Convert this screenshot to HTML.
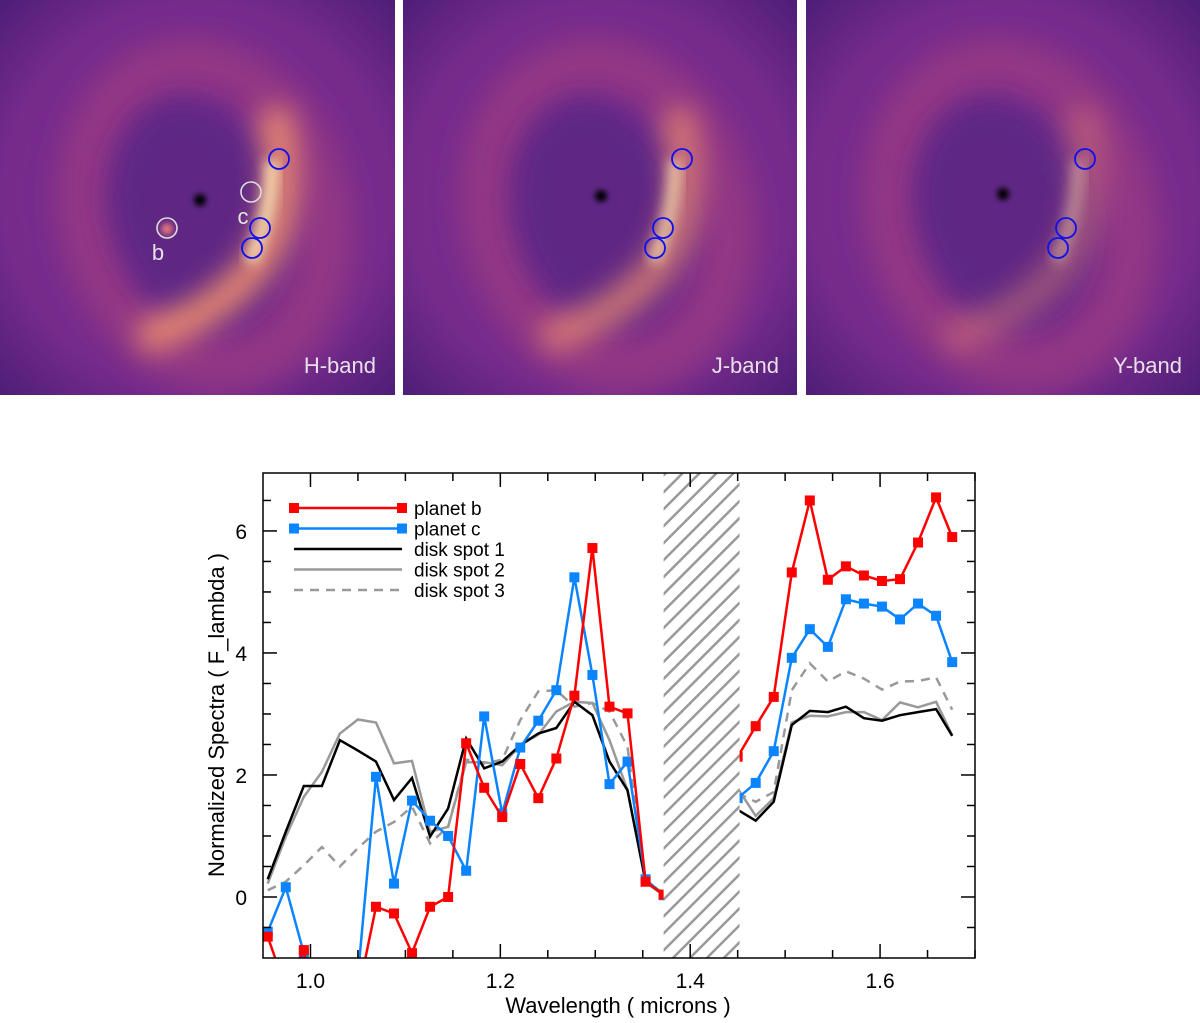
<!DOCTYPE html>
<html><head><meta charset="utf-8"><style>
html,body{margin:0;padding:0;background:#fff;width:1200px;height:1023px;overflow:hidden;font-family:"Liberation Sans",sans-serif}
svg{display:block}
svg text{font-family:"Liberation Sans",sans-serif}
</style></head><body>
<svg width="1200" height="1023" viewBox="0 0 1200 1023">
<defs>
<filter id="blur8" x="-50%" y="-50%" width="200%" height="200%"><feGaussianBlur stdDeviation="14"/></filter>
<filter id="blur4" x="-50%" y="-50%" width="200%" height="200%"><feGaussianBlur stdDeviation="6"/></filter>
<filter id="blur2" x="-50%" y="-50%" width="200%" height="200%"><feGaussianBlur stdDeviation="3"/></filter>
<radialGradient id="bgG" cx="50%" cy="50%" r="70%"><stop offset="0" stop-color="#7e2f8f"/><stop offset="0.7" stop-color="#762b8b"/><stop offset="1" stop-color="#4e1e78"/></radialGradient>
<clipPath id="c1"><rect x="0" y="0" width="395" height="395"/></clipPath>
<clipPath id="c2"><rect x="403" y="0" width="394" height="395"/></clipPath>
<clipPath id="c3"><rect x="806" y="0" width="394" height="395"/></clipPath>
<pattern id="hatch" patternUnits="userSpaceOnUse" width="12" height="12" patternTransform="rotate(45)">
<rect width="12" height="12" fill="#fff"/><rect x="0" y="0" width="2.5" height="12" fill="#999"/></pattern>
</defs>
<g id="panels"></g>
<g id="chart"></g>
</svg>
<script>
// ---- image panels ----
const panelDefs=[
 {x:0,clip:'c1',label:'H-band',star:[200,200],bright:1.0},
 {x:403,clip:'c2',label:'J-band',star:[601,196],bright:0.8},
 {x:806,clip:'c3',label:'Y-band',star:[1003,194],bright:0.45}];
const NS='http://www.w3.org/2000/svg';
function mk(tag,attrs,parent){const e=document.createElementNS(NS,tag);for(const k in attrs)e.setAttribute(k,attrs[k]);parent.appendChild(e);return e;}
const pg=document.getElementById('panels');
panelDefs.forEach((p,i)=>{
 const g=mk('g',{'clip-path':'url(#'+p.clip+')'},pg);
 
 
 const w=i===0?395:394;
 mk('rect',{x:p.x,y:0,width:w,height:395,fill:'url(#bgG)'},g);
 const cx=p.x+205, cy=215;
 mk('ellipse',{cx:cx,cy:cy,rx:118,ry:152,transform:`rotate(-15 ${cx} ${cy})`,fill:'none',stroke:'#a8407f','stroke-width':55,opacity:0.55,filter:'url(#blur8)'},g);
 mk('ellipse',{cx:cx-8,cy:cy-5,rx:85,ry:115,transform:`rotate(-15 ${cx} ${cy})`,fill:'#5c2784',opacity:0.9,filter:'url(#blur8)'},g);
 mk('path',{d:`M ${p.x+272} ${110} Q ${p.x+300} ${210} ${p.x+255} ${268} Q ${p.x+210} ${320} ${p.x+140} ${338}`,fill:'none',stroke:'#e98a6e','stroke-width':32,opacity:p.bright,filter:'url(#blur8)'},g);
 mk('path',{d:`M ${p.x+272} ${160} Q ${p.x+272} ${215} ${p.x+250} ${262}`,fill:'none',stroke:'#ffe6b0','stroke-width':14,opacity:p.bright*0.9,filter:'url(#blur4)'},g);
 mk('circle',{cx:p.star[0],cy:p.star[1],r:6,fill:'#000',filter:'url(#blur2)'},g);
 const t=mk('text',{x:p.x+376,y:373,'text-anchor':'end','font-size':22,fill:'#e8e0e8'},g);t.textContent=p.label;
 
 
 const bc=[[p.x+279,159],[p.x+260,228],[p.x+252,248]];
 bc.forEach(c=>{const e=mk('circle',{cx:c[0],cy:c[1],r:10,fill:'none',stroke:'#1010ee','stroke-width':1.8},g);
  
  });
 if(i===0){
  mk('circle',{cx:167,cy:229,r:6,fill:'#e0787a',filter:'url(#blur2)'},g);
  [[251,192],[167,228]].forEach(c=>{const e=mk('circle',{cx:c[0],cy:c[1],r:10,fill:'none',stroke:'#ddd','stroke-width':1.6},g);
   
   });
  let tb=mk('text',{x:158,y:260,'text-anchor':'middle','font-size':22,fill:'#e8e0e8'},g);tb.textContent='b';
  let tc=mk('text',{x:243,y:224,'text-anchor':'middle','font-size':22,fill:'#e8e0e8'},g);tc.textContent='c';
 }
});

// ---- chart data ----
const wlLeft=[0.955,0.974,0.993,1.012,1.031,1.050,1.069,1.088,1.107,1.126,1.145,1.164,1.183,1.202,1.221,1.240,1.259,1.278,1.297,1.315,1.334,1.353,1.372];
const wlRight=[1.450,1.469,1.488,1.507,1.526,1.545,1.564,1.583,1.602,1.621,1.640,1.659,1.676];
const planetB_L=[-0.65,-1.5,-0.87,-3,-3,-1.6,-0.16,-0.27,-0.92,-0.16,0.0,2.52,1.79,1.31,2.18,1.62,2.27,3.30,5.72,3.12,3.01,0.25,0.04];
const planetC_L=[-0.57,0.16,-0.92,-3,-3,-1.3,1.97,0.22,1.58,1.25,1.0,0.43,2.96,1.37,2.45,2.89,3.39,5.24,3.64,1.85,2.22,0.29,0.03];
const spot1_L=[0.29,1.07,1.82,1.82,2.57,2.40,2.22,1.59,1.95,0.99,1.45,2.60,2.11,2.22,2.49,2.68,2.77,3.20,2.98,2.22,1.75,0.25,0.04];
const spot2_L=[0.22,0.99,1.64,2.05,2.68,2.91,2.86,2.19,2.23,1.07,1.15,2.21,2.21,2.16,2.49,2.66,3.04,3.20,3.18,2.57,1.75,0.24,0.03];
const spot3_L=[0.11,0.25,0.52,0.82,0.50,0.80,1.07,1.23,1.48,0.88,1.15,2.25,2.19,2.25,2.90,3.37,3.39,3.12,3.18,3.04,2.46,0.28,0.05];
const planetB_R=[2.30,2.80,3.28,5.32,6.50,5.20,5.42,5.27,5.18,5.21,5.81,6.55,5.90];
const planetC_R=[1.62,1.87,2.39,3.92,4.39,4.10,4.88,4.81,4.76,4.55,4.81,4.61,3.85];
const spot1_R=[1.43,1.25,1.56,2.82,3.05,3.03,3.12,2.93,2.89,2.98,3.03,3.08,2.64];
const spot2_R=[1.78,1.33,1.62,2.86,2.97,2.96,3.03,3.03,2.90,3.19,3.11,3.20,2.65];
const spot3_R=[1.70,1.56,1.72,3.39,3.83,3.53,3.70,3.58,3.40,3.53,3.54,3.60,3.07];
const xTicks=[1.0,1.2,1.4,1.6];
const yTicks=[0,2,4,6];
const gapRange=[1.372,1.452];

// ---- axes ----
const L=263,R=975,T=473,B=958,X0=0.95,X1=1.7,Y0=-1,Y1=6.95;
const xs=w=>L+(w-X0)/(X1-X0)*(R-L);
const ys=v=>B-(v-Y0)/(Y1-Y0)*(B-T);
const ch=document.getElementById('chart');
const cp=mk('clipPath',{id:'plotclip'},ch);
mk('rect',{x:L,y:T,width:R-L,height:B-T},cp);
const plot=mk('g',{'clip-path':'url(#plotclip)'},ch);



function series(wl,vals,color,dash,markers,name){
 const pts=wl.map((w,i)=>xs(w).toFixed(1)+','+ys(vals[i]).toFixed(1)).join(' ');
 const pl=mk('polyline',{points:pts,fill:'none',stroke:color,'stroke-width':2.5,'stroke-linejoin':'miter'},plot);
 if(dash)pl.setAttribute('stroke-dasharray','9,7');
 
 
 if(markers){wl.forEach((w,i)=>{const r=mk('rect',{x:xs(w)-5,y:ys(vals[i])-5,width:10,height:10,fill:color},plot);
  
  });}
}
[[wlLeft,spot3_L],[wlRight,spot3_R]].forEach(s=>series(s[0],s[1],'#999',true,false,'disk-spot-3'));
[[wlLeft,spot2_L],[wlRight,spot2_R]].forEach(s=>series(s[0],s[1],'#999',false,false,'disk-spot-2'));
[[wlLeft,spot1_L],[wlRight,spot1_R]].forEach(s=>series(s[0],s[1],'#000',false,false,'disk-spot-1'));
[[wlLeft,planetC_L],[wlRight,planetC_R]].forEach(s=>series(s[0],s[1],'#0a84ff',false,true,'planet-c'));
[[wlLeft,planetB_L],[wlRight,planetB_R]].forEach(s=>series(s[0],s[1],'#ff0000',false,true,'planet-b'));
const hr=mk('rect',{x:xs(gapRange[0]),y:T,width:xs(gapRange[1])-xs(gapRange[0]),height:B-T,fill:'url(#hatch)'},plot);



// frame and ticks
const fr=mk('rect',{x:L,y:T,width:R-L,height:B-T,fill:'none',stroke:'#000','stroke-width':1.5},ch);


for(let w=1.0;w<=1.701;w+=0.05){const x=xs(w);const maj=Math.abs((w*10)%2)<0.01||Math.abs((w*10)%2-2)<0.01;const len=maj?14:8;
 mk('line',{x1:x,y1:B,x2:x,y2:B-len,stroke:'#000','stroke-width':1.5},ch);
 mk('line',{x1:x,y1:T,x2:x,y2:T+len,stroke:'#000','stroke-width':1.5},ch);}
for(let v=-0.5;v<=6.9;v+=0.5){const y=ys(v);const len=(Math.abs(v%2)<0.01)?14:8;
 mk('line',{x1:L,y1:y,x2:L+len,y2:y,stroke:'#000','stroke-width':1.5},ch);
 mk('line',{x1:R,y1:y,x2:R-len,y2:y,stroke:'#000','stroke-width':1.5},ch);}
xTicks.forEach(w=>{const t=mk('text',{x:xs(w),y:988,'text-anchor':'middle','font-size':21},ch);t.textContent=w.toFixed(1);
 
 });
yTicks.forEach(v=>{const t=mk('text',{x:247,y:ys(v)+8,'text-anchor':'end','font-size':21},ch);t.textContent=String(v);
 
 });
const xt=mk('text',{x:618,y:1013,'text-anchor':'middle','font-size':22},ch);xt.textContent='Wavelength ( microns )';


const yt=mk('text',{x:224,y:715,'text-anchor':'middle','font-size':22,transform:'rotate(-90 224 715)'},ch);yt.textContent='Normalized Spectra ( F_lambda )';



// legend
const legItems=[['planet b','#ff0000',false,true],['planet c','#0a84ff',false,true],['disk spot 1','#000',false,false],['disk spot 2','#999',false,false],['disk spot 3','#999',true,false]];
legItems.forEach((it,i)=>{const y=508+i*20.5;
 const g=mk('g',{},ch);
 
 
 const l=mk('line',{x1:294,y1:y,x2:402,y2:y,stroke:it[1],'stroke-width':2.5},g);
 if(it[2])l.setAttribute('stroke-dasharray','9,7');
 if(it[3]){mk('rect',{x:289,y:y-5,width:10,height:10,fill:it[1]},g);mk('rect',{x:397,y:y-5,width:10,height:10,fill:it[1]},g);}
 const t=mk('text',{x:414,y:y+7,'font-size':19},g);t.textContent=it[0];});
</script>
</body></html>
